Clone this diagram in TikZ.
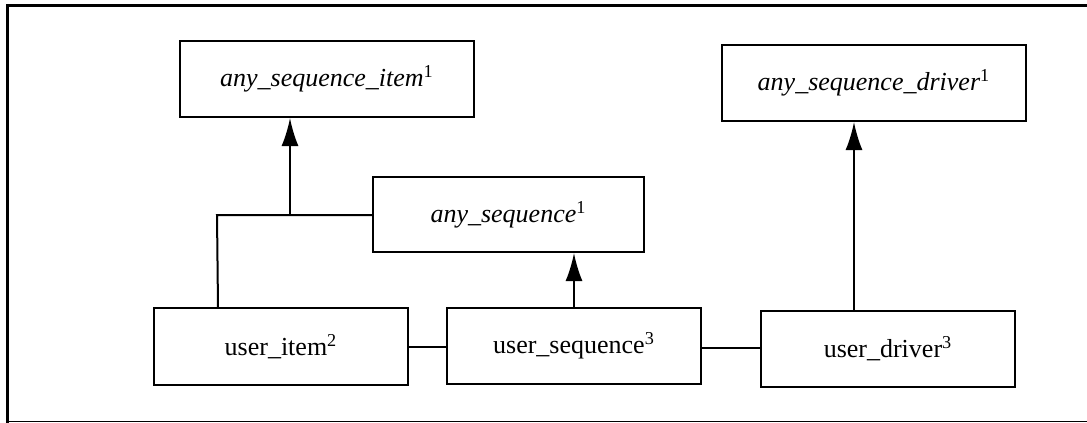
\documentclass[tikz,border=0pt]{standalone}
\usepackage{fontspec}
\setmainfont{Liberation Serif}
\usepackage{tikz}
\usetikzlibrary{positioning, calc, arrows.meta}

\tikzset{
  classbox/.style={draw, line width=1pt, minimum width=127pt, minimum height=38pt,
    inner sep=0pt, font=\fontsize{13}{15}\selectfont},
  inherit/.style={line width=1pt, -{Latex[length=14pt,width=8.5pt]}},
  link/.style={line width=1pt}
}

\begin{document}
\begin{tikzpicture}[x=0.5pt, y=-0.5pt]
\useasboundingbox (0,0) rectangle (1087,423);
% outer frame (top and left heavy)
\draw[line width=1.5pt] (7.5,423) -- (7.5,5.5) -- (1087,5.5);
\draw[line width=0.5pt] (7.5,421.5) -- (1087,421.5);

% base classes
\node[classbox, minimum width=147pt] (anyitem) at (327,79) {\textit{any\_sequence\_item}\textsuperscript{1}};
\node[classbox, minimum width=135.5pt, minimum height=37.5pt] (anyseq) at (508.5,214.5) {\textit{any\_sequence}\textsuperscript{1}};
\node[classbox, minimum width=152pt] (anydrv) at (874,83) {\textit{any\_sequence\_driver}\textsuperscript{1}};

% user classes
\node[classbox, minimum height=38.5pt] (uitem) at (281,346.5) {user\_item\textsuperscript{2}};
\node[classbox] (useq) at (574,346) {user\_sequence\textsuperscript{3}};
\node[classbox] (udrv) at (888,349) {user\_driver\textsuperscript{3}};

% user_item -> any_sequence_item, tee to any_sequence
\coordinate (itemtap) at (218,215);
\coordinate (itemjoin) at (290,215);
\draw[link] (uitem.north -| itemtap) -- ([xshift=-0.5pt]itemtap) -- (anyseq.west |- itemtap);
\draw[inherit] (itemjoin) -- (anyitem.south -| itemjoin);

% user_sequence -> any_sequence
\draw[inherit] (useq.north) -- (anyseq.south -| useq.north);

% user_driver -> any_sequence_driver
\coordinate (drvtap) at (854,0);
\draw[inherit] (udrv.north -| drvtap) -- (anydrv.south -| drvtap);

% associations
\draw[link] (uitem.east) -- (useq.west |- uitem.east);
\draw[link] (useq.east |- 0,348) -- (udrv.west |- 0,348);
\end{tikzpicture}
\end{document}
